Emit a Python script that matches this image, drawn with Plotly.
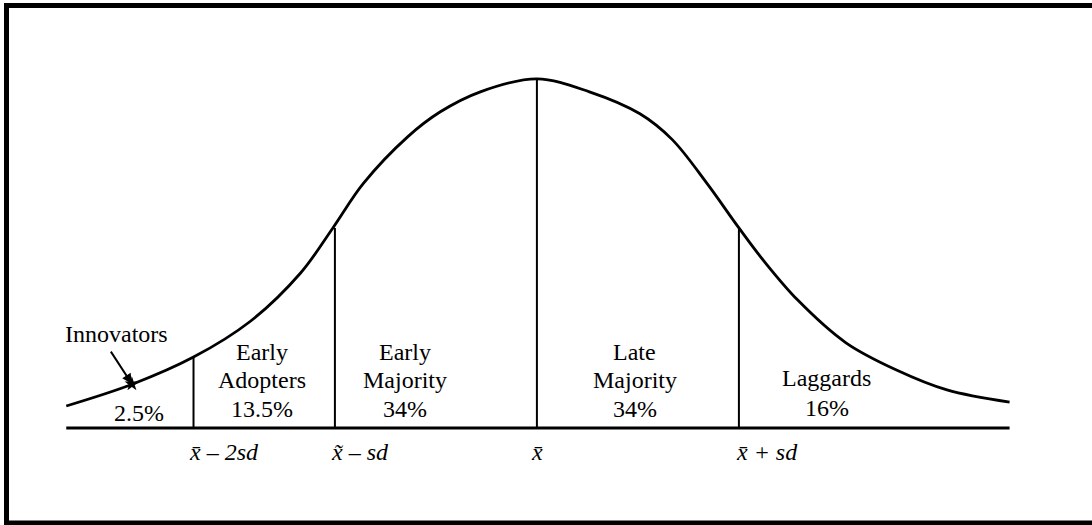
import plotly.graph_objects as go

# Bell curve (x in sd units from the mean, y relative to the peak)
curve_x = [-2.33, -2.00, -1.70, -1.42, -1.17, -1.01, -0.86, -0.64, -0.48, -0.28, 0.00,
           0.26, 0.51, 0.67, 0.84, 1.00, 1.12, 1.29, 1.53, 1.78, 2.03, 2.34]
curve_y = [0.063, 0.126, 0.203, 0.305, 0.444, 0.573, 0.700, 0.834, 0.905, 0.963, 1.000,
           0.963, 0.900, 0.826, 0.702, 0.573, 0.481, 0.367, 0.244, 0.166, 0.109, 0.074]

# Division lines
div_x = [-1.70, -1.00, 0.00, 1.00]
div_top = [0.203, 0.573, 1.000, 0.573]
div_labels = ["x\u0304 \u2013 2<i>sd</i>", "x\u0303 \u2013 <i>sd</i>", "x\u0304", "x\u0304 + <i>sd</i>"]
div_label_x = [-1.73, -1.03, 0.0, 0.975]
div_label_anchor = ["left", "left", "center", "left"]

# Baseline extent
base_x = [-2.33, 2.34]

# Segment label lines
label_text = ["2.5%",
              "Early", "Adopters", "13.5%",
              "Early", "Majority", "34%",
              "Late", "Majority", "34%",
              "Laggards", "16%"]
label_x = [-1.97,
           -1.36, -1.36, -1.36,
           -0.653, -0.653, -0.653,
           0.485, 0.485, 0.485,
           1.436, 1.436]
label_y = [0.043,
           0.218, 0.138, 0.054,
           0.218, 0.138, 0.054,
           0.218, 0.138, 0.054,
           0.143, 0.057]

innov_text = "Innovators"
innov_pos = (-2.08, 0.269)
arrow_tail = (-2.114, 0.223)
arrow_head = (-2.005, 0.126)

FONT = "Liberation Serif"
FS = 24

fig = go.Figure()

# baseline
fig.add_trace(go.Scatter(x=base_x, y=[0, 0], mode="lines",
                         line=dict(color="black", width=3), hoverinfo="skip"))

# vertical division lines
vx, vy = [], []
for x, t in zip(div_x, div_top):
    vx += [x, x, None]
    vy += [0, t, None]
fig.add_trace(go.Scatter(x=vx, y=vy, mode="lines",
                         line=dict(color="black", width=2), hoverinfo="skip"))

# bell curve
fig.add_trace(go.Scatter(x=curve_x, y=curve_y, mode="lines",
                         line=dict(color="black", width=2.8, shape="spline", smoothing=1.0),
                         hoverinfo="skip"))

# star at arrow head
fig.add_trace(go.Scatter(x=[arrow_head[0]], y=[arrow_head[1]], mode="markers",
                         marker=dict(symbol="star", size=11, color="black"), hoverinfo="skip"))

anns = []
for t, x, y in zip(label_text, label_x, label_y):
    anns.append(dict(x=x, y=y, text=t, showarrow=False, xanchor="center", yanchor="middle",
                     font=dict(family=FONT, size=FS, color="black")))
for t, x, a in zip(div_labels, div_label_x, div_label_anchor):
    anns.append(dict(x=x, y=-0.069, text="<i>" + t + "</i>", showarrow=False,
                     xanchor=a, yanchor="middle",
                     font=dict(family=FONT, size=FS, color="black")))
anns.append(dict(x=innov_pos[0], y=innov_pos[1], text=innov_text, showarrow=False,
                 xanchor="center", yanchor="middle",
                 font=dict(family=FONT, size=FS, color="black")))
anns.append(dict(x=arrow_head[0], y=arrow_head[1], ax=arrow_tail[0], ay=arrow_tail[1],
                 axref="x", ayref="y", xref="x", yref="y", text="", showarrow=True,
                 arrowhead=2, arrowsize=1, arrowwidth=2, arrowcolor="black"))

W, H = 1092, 525
frame = dict(color="black", width=5)
left_x = 6.5 / W
top_y = 1 - 5.5 / H
bot_y = 1 - 523 / H
fig.update_layout(
    width=W, height=H,
    margin=dict(l=0, r=0, t=0, b=0),
    paper_bgcolor="white", plot_bgcolor="white",
    showlegend=False,
    hovermode=False,
    xaxis=dict(range=[-2.658, 2.748], visible=False, fixedrange=True),
    yaxis=dict(range=[-0.278, 1.226], visible=False, fixedrange=True),
    annotations=anns,
    shapes=[
        dict(type="line", xref="paper", yref="paper", x0=left_x, x1=left_x,
             y0=bot_y - 0.01, y1=top_y + 0.005, line=frame),
        dict(type="line", xref="paper", yref="paper", x0=left_x - 0.002, x1=1.0,
             y0=top_y, y1=top_y, line=frame),
        dict(type="line", xref="paper", yref="paper", x0=left_x - 0.002, x1=1.0,
             y0=bot_y, y1=bot_y, line=frame),
    ],
)

fig.write_html("out.html",
               config={"displayModeBar": False, "staticPlot": True},
               post_script=("document.documentElement.style.background='white';"
                            "document.documentElement.style.overflow='hidden';"
                            "document.body.style.background='white';"
                            "document.body.style.margin='0';"
                            "document.body.style.overflow='hidden';"))
